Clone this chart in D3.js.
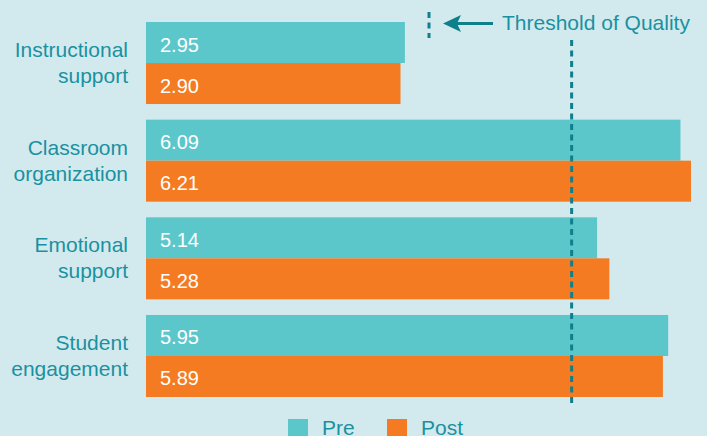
<!DOCTYPE html>
<html>
<head>
<meta charset="utf-8">
<script src="https://cdn.jsdelivr.net/npm/d3@7"></script>
<style>
  body { margin: 0; background: #d2eaee; }
  svg { display: block; }
  text { font-family: "Liberation Sans", Arial, sans-serif; }
</style>
</head>
<body>
<script>
// chart data:
var categories = [["Instructional", "support"], ["Classroom", "organization"], ["Emotional", "support"], ["Student", "engagement"]];
var preValues = [2.95, 6.09, 5.14, 5.95];
var postValues = [2.90, 6.21, 5.28, 5.89];
var seriesNames = ["Pre", "Post"];
var threshold = 4.85;

var width = 707, height = 436;
var colors = { Pre: "#5cc7cb", Post: "#f47b21" };
var textColor = "#1a91a1", lineColor = "#0f7f8c";

var svg = d3.select("body").append("svg")
    .attr("width", width)
    .attr("height", height);

svg.append("rect")
    .attr("width", width)
    .attr("height", height)
    .attr("fill", "#d2eaee");

// scales
var x = d3.scaleLinear()
    .domain([0, d3.max(postValues.concat(preValues))])
    .range([146, 691]);

var y = d3.scaleBand()
    .domain(d3.range(categories.length))
    .range([22, 397])
    .paddingInner(0.16);

var ySub = d3.scaleBand()
    .domain(seriesNames)
    .range([0, y.bandwidth()]);

var rows = categories.map(function (c, i) {
    return { label: c, Pre: preValues[i], Post: postValues[i], i: i };
});

var groups = svg.selectAll(".group")
    .data(rows)
    .enter()
    .append("g")
    .attr("class", "group")
    .attr("transform", function (d) { return "translate(0," + y(d.i) + ")"; });

// bars
groups.selectAll("rect")
    .data(function (d) { return seriesNames.map(function (s) { return { s: s, v: d[s] }; }); })
    .enter()
    .append("rect")
    .attr("x", x(0))
    .attr("y", function (d) { return ySub(d.s); })
    .attr("width", function (d) { return x(d.v) - x(0); })
    .attr("height", ySub.bandwidth())
    .attr("fill", function (d) { return colors[d.s]; });

// value labels
groups.selectAll(".val")
    .data(function (d) { return seriesNames.map(function (s) { return { s: s, v: d[s] }; }); })
    .enter()
    .append("text")
    .attr("class", "val")
    .attr("x", x(0) + 14)
    .attr("y", function (d) { return ySub(d.s) + ySub.bandwidth() / 2 + 9; })
    .attr("fill", "#ffffff")
    .style("font-size", "20px")
    .text(function (d) { return d.v.toFixed(2); });

// category labels (two lines, right aligned)
groups.append("text")
    .attr("text-anchor", "end")
    .attr("fill", textColor)
    .style("font-size", "21px")
    .selectAll("tspan")
    .data(function (d) { return d.label; })
    .enter()
    .append("tspan")
    .attr("x", 128)
    .attr("y", function (d, i) { return y.bandwidth() / 2 - 6 + i * 26; })
    .text(function (d) { return d; });

// threshold line
svg.append("line")
    .attr("x1", x(threshold)).attr("x2", x(threshold))
    .attr("y1", 40).attr("y2", 404)
    .attr("stroke", lineColor)
    .attr("stroke-width", 3)
    .attr("stroke-dasharray", "6,4.5");

// annotation at top
svg.append("line")
    .attr("x1", 429).attr("x2", 429)
    .attr("y1", 12).attr("y2", 38)
    .attr("stroke", lineColor)
    .attr("stroke-width", 3)
    .attr("stroke-dasharray", "6,4.5");

svg.append("line")
    .attr("x1", 452).attr("x2", 493)
    .attr("y1", 23.5).attr("y2", 23.5)
    .attr("stroke", lineColor)
    .attr("stroke-width", 3);

svg.append("path")
    .attr("d", "M443,23.5 L461,15 L457,23.5 L461,32 Z")
    .attr("fill", lineColor);

svg.append("text")
    .attr("x", 502)
    .attr("y", 29.5)
    .attr("fill", textColor)
    .style("font-size", "21px")
    .text("Threshold of Quality");

// legend (the reference crops it at the bottom edge too)
var legend = svg.selectAll(".legend")
    .data(seriesNames)
    .enter()
    .append("g")
    .attr("class", "legend")
    .attr("transform", function (d, i) { return "translate(" + (288 + i * 99) + ",419)"; });

legend.append("rect")
    .attr("width", 20)
    .attr("height", 20)
    .attr("fill", function (d) { return colors[d]; });

legend.append("text")
    .attr("x", 34)
    .attr("y", 16)
    .attr("fill", textColor)
    .style("font-size", "21px")
    .text(function (d) { return d; });
</script>
</body>
</html>
